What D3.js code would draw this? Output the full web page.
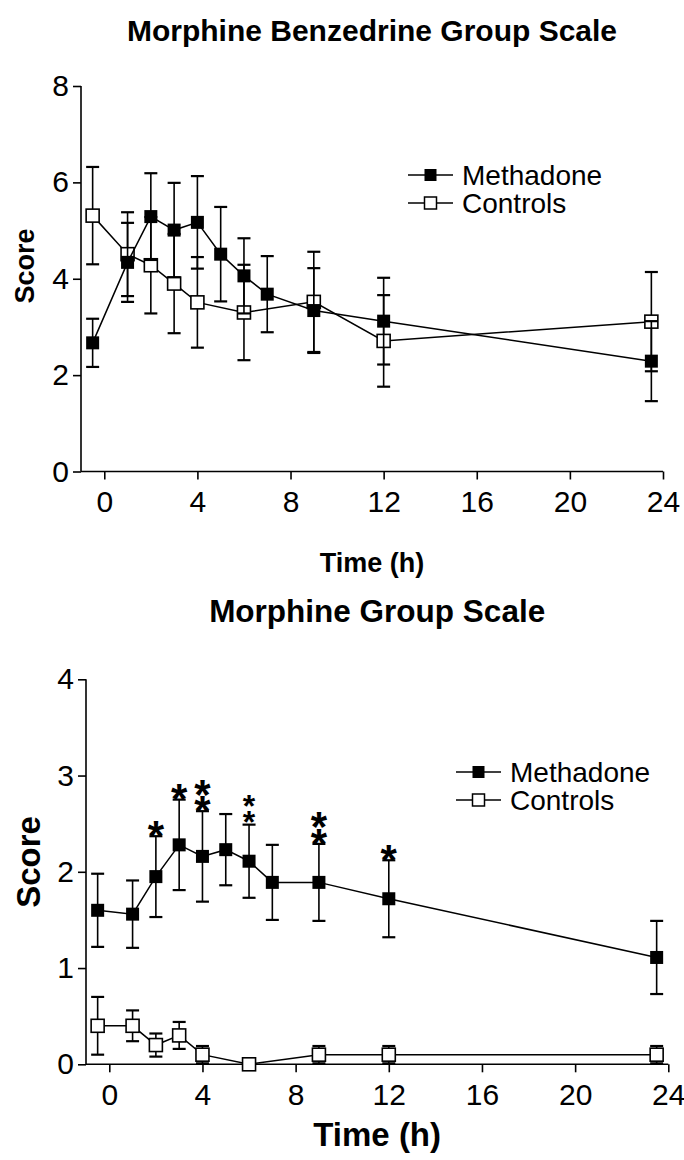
<!DOCTYPE html>
<html>
<head>
<meta charset="utf-8">
<script src="https://cdn.jsdelivr.net/npm/d3@7"></script>
<style>
  html, body { margin: 0; padding: 0; background: #fff; }
  svg { display: block; }
  text { font-family: "Liberation Sans", Arial, Helvetica, sans-serif; fill: #000; }
</style>
</head>
<body>
<svg id="chart" width="684" height="1160"></svg>
<script>
// ---------------- data ----------------
const xTicks = [0, 4, 8, 12, 16, 20, 24];
const seriesNames = ["Methadone", "Controls"];

// Panel 1: Morphine Benzedrine Group Scale
const mbgTitle = "Morphine Benzedrine Group Scale";
const mbgYTicks = [0, 2, 4, 6, 8];
const mbgMethTime = [-0.5, 1, 2, 3, 4, 5, 6, 7, 9, 12, 23.5];
const mbgMethMean = [2.67, 4.34, 5.29, 5.01, 5.17, 4.51, 4.06, 3.68, 3.34, 3.12, 2.29];
const mbgMethErr  = [0.50, 0.82, 0.90, 0.98, 0.96, 0.98, 0.78, 0.79, 0.88, 0.90, 0.83];
const mbgCtrlTime = [-0.5, 1, 2, 3, 4, 6, 9, 12, 23.5];
const mbgCtrlMean = [5.31, 4.51, 4.28, 3.90, 3.51, 3.30, 3.52, 2.71, 3.11];
const mbgCtrlErr  = [1.01, 0.87, 1.00, 1.03, 0.94, 0.99, 1.04, 0.95, 1.03];

// Panel 2: Morphine Group Scale
const mgTitle = "Morphine Group Scale";
const mgYTicks = [0, 1, 2, 3, 4];
const mgMethTime = [-0.5, 1, 2, 3, 4, 5, 6, 7, 9, 12, 23.5];
const mgMethMean = [1.60, 1.56, 1.95, 2.28, 2.16, 2.23, 2.11, 1.89, 1.89, 1.72, 1.11];
const mgMethErr  = [0.38, 0.35, 0.42, 0.47, 0.47, 0.37, 0.38, 0.39, 0.40, 0.40, 0.38];
const mgCtrlTime = [-0.5, 1, 2, 3, 4, 6, 9, 12, 23.5];
const mgCtrlMean = [0.40, 0.40, 0.20, 0.30, 0.10, 0.00, 0.10, 0.10, 0.10];
const mgCtrlErr  = [0.30, 0.16, 0.12, 0.14, 0.09, 0.00, 0.09, 0.09, 0.09];
// significance markers (Methadone vs Controls)
const mgSigTime  = [2, 3, 4, 6, 9, 12];
const mgSigCount = [1, 1, 2, 2, 2, 1];
const mgSigSmall = [false, false, false, true, false, false];

// ---------------- drawing ----------------
const svg = d3.select("#chart");
const FONT = '"Liberation Sans", Arial, Helvetica, sans-serif';

function zip(t, m, e) { return t.map((d, i) => ({ t: d, m: m[i], e: e[i] })); }

function panel(cfg) {
  const g = svg.append("g");
  const x = d3.scaleLinear().domain([-1, 24]).range([cfg.left, cfg.right]);
  const y = d3.scaleLinear().domain([0, cfg.yMax]).range([cfg.bottom, cfg.top]);

  // title
  g.append("text").attr("x", (cfg.left + cfg.right) / 2).attr("y", cfg.titleY)
    .attr("text-anchor", "middle").attr("font-weight", "bold").attr("font-size", cfg.titleSize)
    .text(cfg.title);

  // axes
  const xAxis = d3.axisBottom(x).tickValues(xTicks).tickSize(8).tickPadding(11).tickFormat(d3.format("d"));
  const yAxis = d3.axisLeft(y).tickValues(cfg.yTicks).tickSize(8).tickPadding(4).tickFormat(d3.format("d"));
  const gx = g.append("g").attr("transform", `translate(0,${cfg.bottom})`).call(xAxis);
  const gy = g.append("g").attr("transform", `translate(${cfg.left},0)`).call(yAxis);
  [gx, gy].forEach(a => {
    a.select(".domain").attr("stroke", "#000").attr("stroke-width", 1.6);
    a.selectAll(".tick line").attr("stroke", "#000").attr("stroke-width", 1.6);
    a.selectAll(".tick text").attr("font-family", FONT).attr("font-size", cfg.tickSize).attr("fill", "#000");
  });
  gx.select(".domain").attr("d", `M${cfg.left},0H${cfg.right}`);
  gy.select(".domain").attr("d", `M0,${cfg.bottom}V${cfg.top}`);

  // axis titles
  g.append("text").attr("x", (cfg.left + cfg.right) / 2).attr("y", cfg.xLabelY)
    .attr("text-anchor", "middle").attr("font-weight", "bold").attr("font-size", cfg.axisTitleSize)
    .text("Time (h)");
  g.append("text").attr("transform", `translate(${cfg.yLabelX},${cfg.yLabelY}) rotate(-90)`)
    .attr("text-anchor", "middle").attr("font-weight", "bold").attr("font-size", cfg.axisTitleSize)
    .text("Score");

  const line = d3.line().x(d => x(d.t)).y(d => y(d.m));
  const cap = 6.5, sq = 13;

  function series(data, filled) {
    const s = g.append("g");
    data.filter(d => d.e > 0).forEach(d => {
      s.append("line").attr("x1", x(d.t)).attr("x2", x(d.t)).attr("y1", y(d.m - d.e)).attr("y2", y(d.m + d.e))
        .attr("stroke", "#000").attr("stroke-width", 1.6);
      [d.m - d.e, d.m + d.e].forEach(v => {
        s.append("line").attr("x1", x(d.t) - cap).attr("x2", x(d.t) + cap).attr("y1", y(v)).attr("y2", y(v))
          .attr("stroke", "#000").attr("stroke-width", 2.2);
      });
    });
    s.append("path").datum(data).attr("d", line).attr("fill", "none").attr("stroke", "#000").attr("stroke-width", 1.5);
    s.selectAll("rect.m").data(data).join("rect")
      .attr("x", d => x(d.t) - sq / 2).attr("y", d => y(d.m) - sq / 2)
      .attr("width", sq).attr("height", sq)
      .attr("fill", filled ? "#000" : "#fff").attr("stroke", "#000").attr("stroke-width", filled ? 0 : 1.6);
  }
  series(cfg.ctrl, false);
  series(cfg.meth, true);

  // legend
  const lg = g.append("g");
  seriesNames.forEach((name, i) => {
    const ly = cfg.legY + i * cfg.legGap;
    lg.append("line").attr("x1", cfg.legX).attr("x2", cfg.legX + 45).attr("y1", ly).attr("y2", ly)
      .attr("stroke", "#000").attr("stroke-width", 1.6);
    lg.append("rect").attr("x", cfg.legX + 22.5 - 6).attr("y", ly - 6).attr("width", 12).attr("height", 12)
      .attr("fill", i === 0 ? "#000" : "#fff").attr("stroke", "#000").attr("stroke-width", i === 0 ? 0 : 1.5);
    lg.append("text").attr("x", cfg.legX + 54).attr("y", ly + 9.5).attr("font-size", cfg.legSize).text(name);
  });

  // significance: one text element per time point, glyphs stacked via per-character x/y lists
  if (cfg.sig) {
    cfg.sig.forEach(s => {
      const d = cfg.meth.find(m => m.t === s.t);
      const capY = y(d.m + d.e);
      const fs = s.small ? 32 : 42;
      const step = s.small ? 16 : 16.5;
      const xs = [], ys = [];
      for (let k = 0; k < s.n; k++) {
        xs.push(x(s.t));
        ys.push(capY - 10.5 - (s.n - 1 - k) * step + 0.58 * fs);
      }
      g.append("text").attr("x", xs.join(" ")).attr("y", ys.join(" "))
        .attr("text-anchor", "middle").attr("font-weight", "bold").attr("font-size", fs)
        .text("*".repeat(s.n));
    });
  }
}

panel({
  title: mbgTitle, titleY: 41, titleSize: 30,
  left: 81, right: 663, top: 86, bottom: 471.5, yMax: 8, yTicks: mbgYTicks,
  tickSize: 30, axisTitleSize: 27, xLabelY: 572, yLabelX: 34, yLabelY: 266,
  meth: zip(mbgMethTime, mbgMethMean, mbgMethErr), ctrl: zip(mbgCtrlTime, mbgCtrlMean, mbgCtrlErr),
  legX: 408, legY: 175, legGap: 28, legSize: 28
});

panel({
  title: mgTitle, titleY: 622, titleSize: 31.5,
  left: 86, right: 668.3, top: 679.3, bottom: 1064.3, yMax: 4, yTicks: mgYTicks,
  tickSize: 30, axisTitleSize: 33, xLabelY: 1146, yLabelX: 40, yLabelY: 862,
  meth: zip(mgMethTime, mgMethMean, mgMethErr), ctrl: zip(mgCtrlTime, mgCtrlMean, mgCtrlErr),
  legX: 456, legY: 772, legGap: 28, legSize: 28,
  sig: mgSigTime.map((t, i) => ({ t: t, n: mgSigCount[i], small: mgSigSmall[i] }))
});
</script>
</body>
</html>
